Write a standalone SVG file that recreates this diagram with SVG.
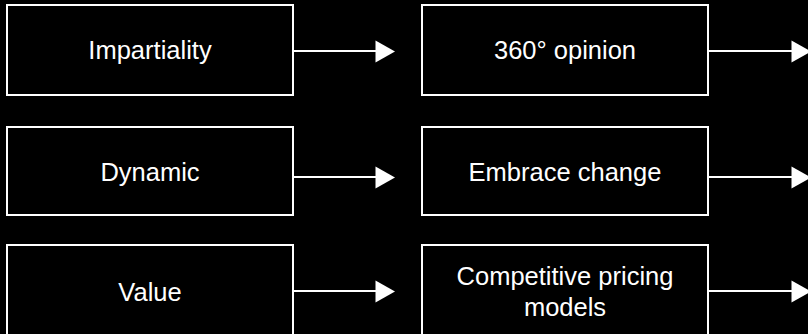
<svg xmlns="http://www.w3.org/2000/svg" width="808" height="334" viewBox="0 0 808 334">
<defs>
<style>
.box{fill:#000;stroke:#fff;stroke-width:2}
.lbl{fill:#fff;font-family:"Liberation Sans",Arial,sans-serif;font-size:25.5px;text-anchor:middle}
.ln{stroke:#fff;stroke-width:2;fill:none}
.hd{fill:#fff}
</style>
</defs>
<rect x="0" y="0" width="808" height="334" fill="#000"/>
<g id="n-impartiality"><rect class="box" x="7" y="5" width="286" height="90"/><text class="lbl" x="150" y="59">Impartiality</text></g>
<g id="n-360"><rect class="box" x="422" y="5" width="286" height="90"/><text class="lbl" x="565" y="59">360° opinion</text></g>
<g id="n-dynamic"><rect class="box" x="7" y="127" width="286" height="88"/><text class="lbl" x="150" y="180.5">Dynamic</text></g>
<g id="n-embrace"><rect class="box" x="422" y="127" width="286" height="88"/><text class="lbl" x="565" y="180.5">Embrace change</text></g>
<g id="n-value"><rect class="box" x="7" y="245" width="286" height="100"/><text class="lbl" x="150" y="300.5">Value</text></g>
<g id="n-competitive"><rect class="box" x="422" y="245" width="286" height="100"/><text class="lbl" x="565" y="285">Competitive pricing</text><text class="lbl" x="565" y="316">models</text></g>
<g id="connectors">
<line class="ln" x1="293" y1="51" x2="377" y2="51"/><polygon class="hd" points="375.5,40.5 395,51.5 375.5,62.5"/>
<line class="ln" x1="708" y1="51" x2="793" y2="51"/><polygon class="hd" points="791.5,40.5 811,51.5 791.5,62.5"/>
<line class="ln" x1="293" y1="177" x2="377" y2="177"/><polygon class="hd" points="375.5,166.5 395,177.5 375.5,188.5"/>
<line class="ln" x1="708" y1="177" x2="793" y2="177"/><polygon class="hd" points="791.5,166.5 811,177.5 791.5,188.5"/>
<line class="ln" x1="293" y1="291" x2="377" y2="291"/><polygon class="hd" points="375.5,280.5 395,291.5 375.5,302.5"/>
<line class="ln" x1="708" y1="291" x2="793" y2="291"/><polygon class="hd" points="791.5,280.5 811,291.5 791.5,302.5"/>
</g>
</svg>
